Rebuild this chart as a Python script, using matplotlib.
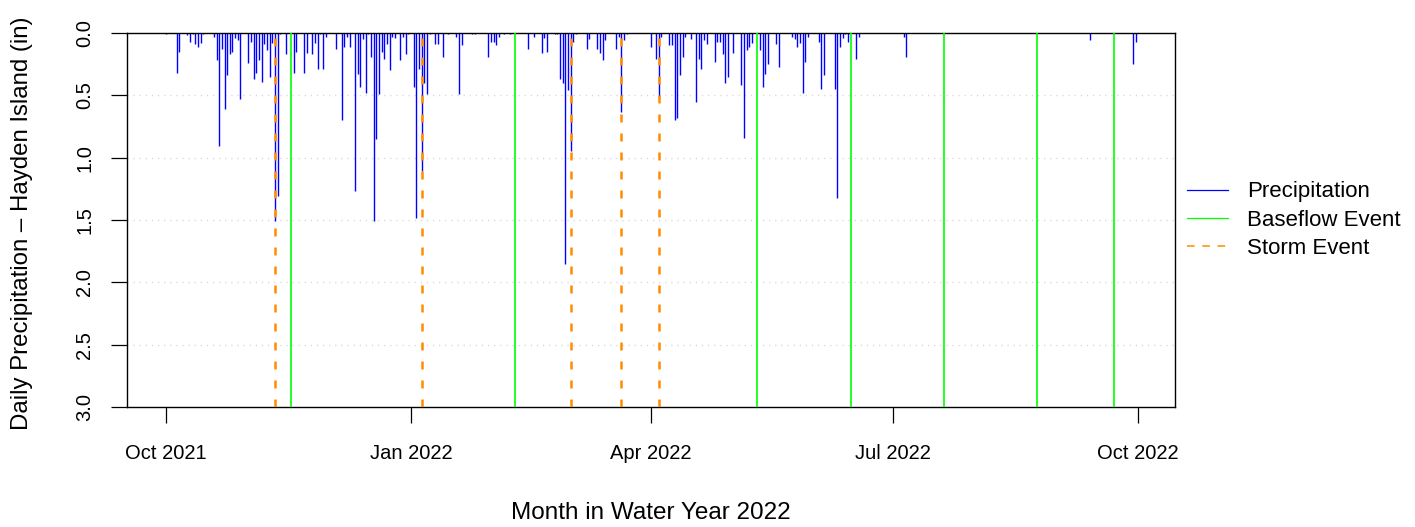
import matplotlib
matplotlib.use("Agg")
import matplotlib.pyplot as plt
import numpy as np
import pandas as pd
from matplotlib.lines import Line2D

plt.rcParams['font.family'] = ['Liberation Sans', 'DejaVu Sans']

# Water year 2022 starts on 1 Oct 2021; days below count from that date
WY_START = pd.Timestamp('2021-10-01')

precip_day = [0, 4, 5, 8, 9, 10, 11, 12, 13, 14, 18, 19, 20, 21, 22, 23, 24, 25,
              26, 27, 28, 31, 32, 33, 34, 35, 36, 37, 38, 39, 40, 41, 42, 43, 45,
              48, 49, 52, 53, 55, 56, 57, 58, 59, 60, 64, 66, 67, 68, 69, 71, 72,
              73, 74, 75, 76, 77, 78, 79, 80, 81, 82, 83, 84, 85, 86, 88, 89, 90,
              91, 93, 94, 95, 96, 97, 98, 99, 101, 102, 104, 106, 109, 110, 111,
              115, 116, 121, 122, 123, 124, 125, 127, 129, 136, 138, 141, 142, 143,
              146, 147, 148, 149, 150, 151, 152, 153, 154, 158, 159, 162, 163, 164,
              165, 169, 170, 171, 172, 173, 182, 184, 185, 186, 189, 190, 191, 192,
              193, 194, 195, 197, 199, 200, 201, 202, 203, 206, 207, 208, 209, 210,
              211, 213, 216, 217, 218, 219, 220, 223, 224, 225, 226, 229, 230, 235,
              236, 237, 238, 239, 240, 241, 245, 246, 247, 251, 252, 253, 254, 255,
              256, 259, 260, 277, 278, 347, 363, 364]
precip_in = [0.01, 0.32, 0.155, 0.02, 0.07, 0.01, 0.09, 0.115, 0.08, 0.01, 0.03, 0.22,
             0.91, 0.125, 0.61, 0.34, 0.165, 0.155, 0.04, 0.055, 0.53, 0.24, 0.07, 0.37,
             0.32, 0.22, 0.39, 0.085, 0.135, 0.355, 0.08, 1.51, 1.31, 0.01, 0.17, 0.32,
             0.15, 0.32, 0.16, 0.165, 0.08, 0.29, 0.01, 0.29, 0.03, 0.13, 0.70, 0.11,
             0.03, 0.115, 1.27, 0.33, 0.43, 0.05, 0.48, 0.01, 0.19, 1.51, 0.85, 0.49,
             0.15, 0.21, 0.085, 0.30, 0.03, 0.04, 0.22, 0.035, 0.17, 0.01, 0.43, 1.48,
             0.29, 1.11, 0.40, 0.49, 0.01, 0.085, 0.085, 0.19, 0.01, 0.035, 0.49, 0.10,
             0.01, 0.01, 0.19, 0.075, 0.07, 0.10, 0.035, 0.01, 0.01, 0.125, 0.03, 0.16,
             0.04, 0.15, 0.01, 0.01, 0.37, 0.40, 1.85, 0.46, 0.95, 0.07, 0.01, 0.13,
             0.045, 0.13, 0.16, 0.22, 0.055, 0.125, 0.035, 0.63, 0.055, 0.01, 0.115,
             0.21, 0.52, 0.03, 0.10, 0.10, 0.70, 0.68, 0.34, 0.19, 0.035, 0.045, 0.55,
             0.21, 0.29, 0.055, 0.085, 0.235, 0.07, 0.07, 0.165, 0.40, 0.355, 0.16,
             0.415, 0.84, 0.135, 0.11, 0.08, 0.135, 0.43, 0.33, 0.25, 0.085, 0.275,
             0.035, 0.045, 0.11, 0.08, 0.48, 0.235, 0.03, 0.07, 0.45, 0.34, 0.45, 1.32,
             0.115, 0.04, 0.01, 0.075, 0.21, 0.03, 0.035, 0.19, 0.056, 0.25, 0.07]

storm_day = [41, 96, 152, 171, 185]
baseflow_day = [47, 131, 222, 257, 292, 327, 356]

y_ticks = [0.0, 0.5, 1.0, 1.5, 2.0, 2.5, 3.0]
x_tick_dates = ['2021-10-01', '2022-01-01', '2022-04-01', '2022-07-01', '2022-10-01']
x_tick_labels = ['Oct 2021', 'Jan 2022', 'Apr 2022', 'Jul 2022', 'Oct 2022']

legend_labels = ['Precipitation', 'Baseflow Event', 'Storm Event']

BLUE = '#0000FF'
GREEN = '#00FF00'
ORANGE = '#FF8C00'


def to_date(days):
    return WY_START + pd.to_timedelta(np.asarray(days, dtype=float), unit='D')


fig = plt.figure(figsize=(14.15, 5.27), dpi=100)
W, H = 1415, 527
ax = fig.add_axes([127 / W, 1 - 407 / H, (1175 - 127) / W, (407 - 33) / H])

# dotted horizontal guides
for v in y_ticks[1:-1]:
    ax.axhline(v, color='#D3D3D3', lw=1.0, ls=(0, (0.8, 3.6)), zorder=0)

# daily precipitation as hanging spikes
ax.vlines(to_date(precip_day), 0, precip_in, color=BLUE, lw=1.0, zorder=2)

for d in to_date(baseflow_day):
    ax.axvline(d, color=GREEN, lw=1.2, zorder=3)
for d in to_date(storm_day):
    ax.axvline(d, color=ORANGE, lw=1.8, ls=(0, (3.2, 4.4)), zorder=3)

ax.set_ylim(3, 0)
ax.set_xlim(WY_START - pd.Timedelta(days=14.6), WY_START + pd.Timedelta(days=378.8))

ax.set_yticks(y_ticks)
ax.set_yticklabels([f'{v:.1f}' for v in y_ticks])
ax.set_xticks(pd.to_datetime(x_tick_dates))
ax.set_xticklabels(x_tick_labels)

ax.tick_params(axis='both', direction='out', length=11.5, width=0.9,
               labelsize=14.5, color='black')
ax.tick_params(axis='x', pad=15)
ax.tick_params(axis='y', pad=12)
for lab in ax.get_yticklabels():
    lab.set_rotation(90)
    lab.set_va('center')
    lab.set_ha('right')

for s in ax.spines.values():
    s.set_linewidth(1.0)
    s.set_color('black')

fig.text(22 / W, 1 - 223 / H, 'Daily Precipitation \u2013 Hayden Island (in)',
         rotation=90, ha='center', va='center', fontsize=17.3)
fig.text(651 / W, 1 - 513 / H, 'Month in Water Year 2022',
         ha='center', va='center', fontsize=17.5)

handles = [Line2D([], [], color=BLUE, lw=0.9),
           Line2D([], [], color=GREEN, lw=0.9),
           Line2D([], [], color=ORANGE, lw=1.1, ls=(0, (5.0, 5.0)))]
fig.legend(handles, legend_labels, loc='center left',
           bbox_to_anchor=(1187 / W, 1 - 220 / H), frameon=False, fontsize=16,
           handlelength=1.85, handletextpad=0.85, labelspacing=0.32,
           borderpad=0, borderaxespad=0)

fig.savefig('out.png', dpi=100)
